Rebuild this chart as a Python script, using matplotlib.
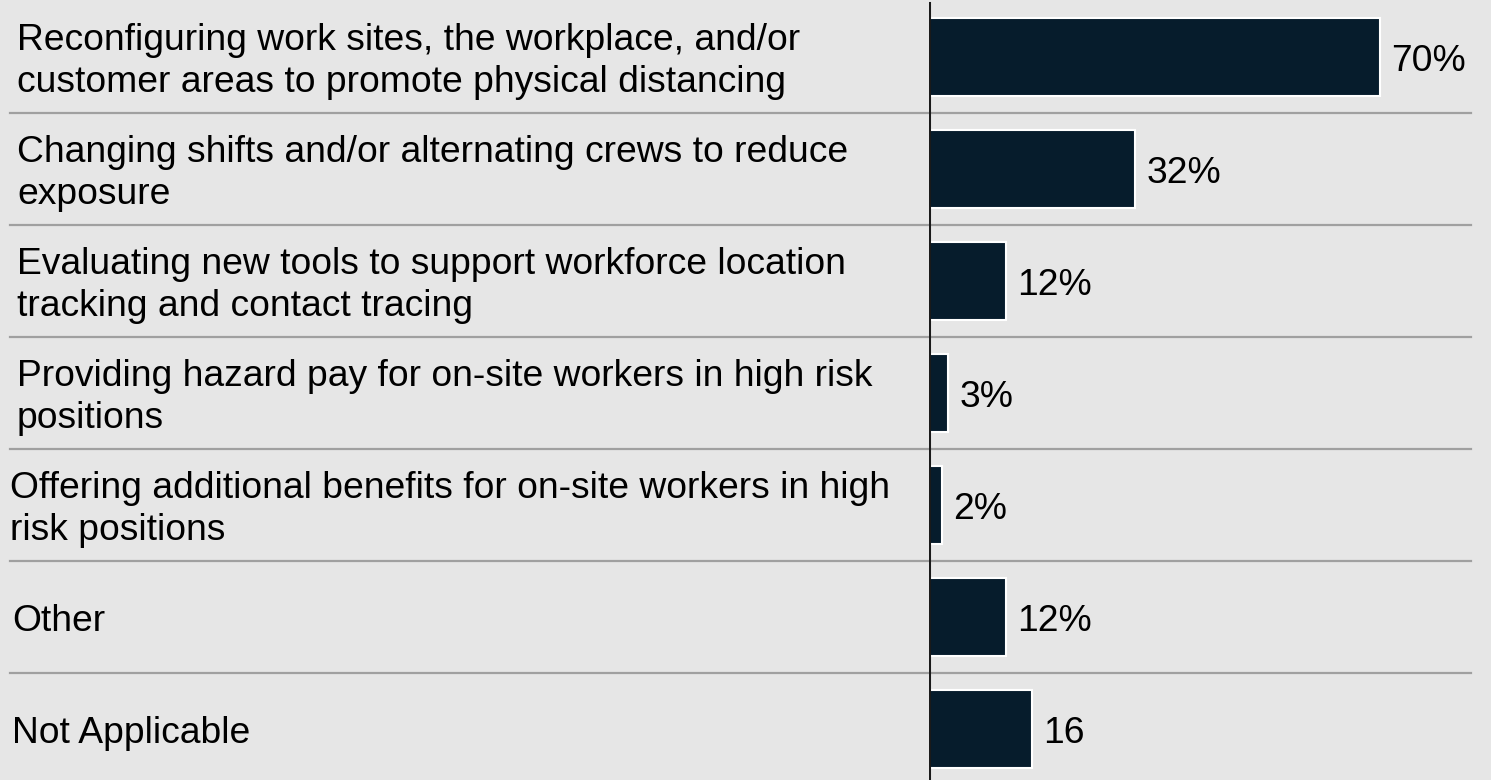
import matplotlib
matplotlib.use("Agg")
import matplotlib.pyplot as plt
from matplotlib.transforms import blended_transform_factory, ScaledTranslation

categories = [
    "Reconfiguring work sites, the workplace, and/or\ncustomer areas to promote physical distancing",
    "Changing shifts and/or alternating crews to reduce\nexposure",
    "Evaluating new tools to support workforce location\ntracking and contact tracing",
    "Providing hazard pay for on-site workers in high risk\npositions",
    "Offering additional benefits for on-site workers in high\nrisk positions",
    "Other",
    "Not Applicable",
]
values = [70, 32, 12, 3, 2, 12, 16]
value_labels = ["70%", "32%", "12%", "3%", "2%", "12%", "16"]

BG = "#e6e6e6"
BAR = "#061c2c"
W, H, DPI = 1491, 780, 100
FS = 26.8

plt.rcParams["font.family"] = ["Liberation Sans", "DejaVu Sans"]

fig = plt.figure(figsize=(W / DPI, H / DPI), dpi=DPI, facecolor=BG)
ax_left = 929 / W
ax = fig.add_axes([ax_left, 0, 1 - ax_left, 1])
ax.set_facecolor(BG)

px_per_unit = 6.44
ax.set_xlim(0, (W - 929) / px_per_unit)
pitch = 112.0
ax.set_ylim(6 + (H - 729) / pitch, -57 / pitch)

ypos = list(range(len(values)))
ax.barh(ypos, values, height=0.7, color=BAR, edgecolor="white", linewidth=1.5, zorder=3)

# small downward nudge so glyphs sit visually centred on each row
nudge = ScaledTranslation(0, -4.5 / DPI, fig.dpi_scale_trans)

for y, v, lab in zip(ypos, values, value_labels):
    ax.annotate(lab, (v, y), xytext=(8, -3.2), textcoords="offset points",
                va="center", ha="left", fontsize=FS, color="black")

for s in ax.spines.values():
    s.set_visible(False)
ax.set_xticks([])
ax.set_yticks([])

# vertical baseline
ax.axvline(0, ymin=0, ymax=1 - 3 / H, color="#1a1a1a", linewidth=2.2, zorder=4)

# row separators and category labels
trans = blended_transform_factory(fig.transFigure, ax.transData)
for i in range(len(values) - 1):
    ax.plot([10 / W, 1471 / W], [i + 0.5, i + 0.5], transform=trans,
            color="#a0a0a0", linewidth=1.6, clip_on=False, zorder=2)

label_x = [17, 17, 17, 17, 10, 12, 12]
for y, cat, lx in zip(ypos, categories, label_x):
    ax.text(lx / W, y, cat, transform=trans + nudge, ha="left", va="center",
            fontsize=FS, linespacing=1.27, color="black", clip_on=False)

fig.savefig("out.png", dpi=DPI, facecolor=BG)
